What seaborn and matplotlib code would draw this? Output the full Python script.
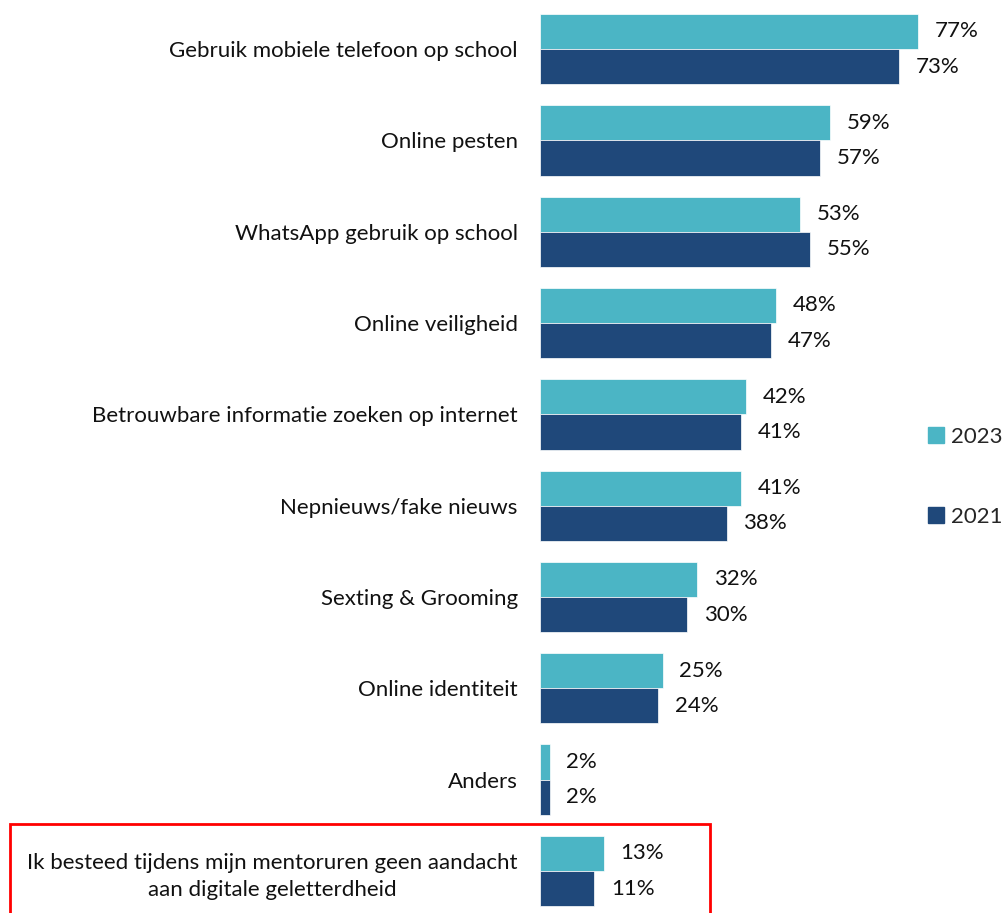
import matplotlib
matplotlib.use("Agg")
import matplotlib.pyplot as plt
from matplotlib.patches import Rectangle
import seaborn as sns
import pandas as pd

categories = [
    "Gebruik mobiele telefoon op school",
    "Online pesten",
    "WhatsApp gebruik op school",
    "Online veiligheid",
    "Betrouwbare informatie zoeken op internet",
    "Nepnieuws/fake nieuws",
    "Sexting & Grooming",
    "Online identiteit",
    "Anders",
    "Ik besteed tijdens mijn mentoruren geen aandacht\naan digitale geletterdheid",
]
values_2023 = [77, 59, 53, 48, 42, 41, 32, 25, 2, 13]
values_2021 = [73, 57, 55, 47, 41, 38, 30, 24, 2, 11]
years = ["2023", "2021"]
palette = {"2023": "#4BB5C5", "2021": "#1F487A"}

df = pd.DataFrame({
    "categorie": categories * 2,
    "jaar": ["2023"] * len(categories) + ["2021"] * len(categories),
    "waarde": values_2023 + values_2021,
})

sns.set_theme(style="white")
plt.rcParams["font.family"] = ["Lato", "DejaVu Sans"]

W, H = 1005, 913
fig = plt.figure(figsize=(W / 100, H / 100), dpi=100)
ax = fig.add_axes([540 / W, 0, 393 / W, 1 - 3 / H])

sns.barplot(data=df, y="categorie", x="waarde", hue="jaar", hue_order=years,
            order=categories, palette=palette, width=0.77, orient="h",
            saturation=1, ax=ax, legend=False, edgecolor="white", linewidth=0.5)

for cont in ax.containers:
    ax.bar_label(cont, labels=[f"{v:.0f}%" for v in cont.datavalues],
                 padding=12, fontsize=16, color="#111111")

ax.set_xlim(0, 80)
ax.set_ylim(9.46, -0.504)
ax.set_xlabel("")
ax.set_ylabel("")
ax.set_xticks([])
ax.tick_params(axis="y", length=0, pad=16, labelsize=16, labelcolor="#111111")
for lbl in ax.get_yticklabels():
    lbl.set_multialignment("center")
    lbl.set_linespacing(1.45)
sns.despine(ax=ax, left=True, bottom=True)

# Legend
handles = [Rectangle((0, 0), 1, 1, color=palette[y]) for y in years]
fig.legend(handles, years, loc="center left", bbox_to_anchor=(928 / W, 1 - 477 / H),
           frameon=False, fontsize=16, handlelength=0.7, handleheight=0.7,
           handletextpad=0.35, labelspacing=2.7, borderpad=0, borderaxespad=0)

# Highlight box around the last statement
fig.add_artist(Rectangle((10 / W, -0.01), 700 / W, (913 - 824) / H + 0.01,
                         transform=fig.transFigure, fill=False,
                         edgecolor="#FF0000", linewidth=2, clip_on=False))

fig.savefig("out.png", dpi=100)
